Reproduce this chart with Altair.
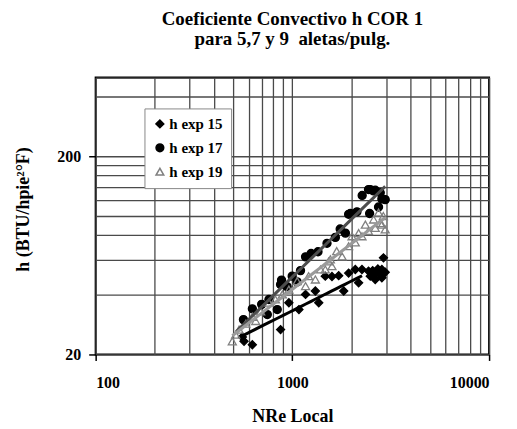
import altair as alt
import pandas as pd

# exp 15 (diamonds, lower branch)
x15 = [557, 568, 626, 871, 960, 1080, 1167, 1309, 1362, 1470, 1590, 1720, 1824, 1932, 2089,
       2172, 2259, 2438, 2489, 2638, 2638, 2798, 2851, 2851, 2905, 2965, 2560, 2720]
y15 = [24.5, 23.3, 22.4, 26.7, 36.5, 33.7, 40.2, 41.8, 36.5, 49.7, 49.5, 50.0, 41.8, 51.5, 53.7,
       46.0, 53.7, 52.7, 49.7, 51.7, 47.8, 50.0, 53.7, 48.8, 61.5, 52.0, 53.0, 54.0]

# exp 17 (filled circles)
x17 = [564, 626, 698, 746, 760, 838, 871, 881, 940, 998, 1058, 1100, 1167, 1245, 1350, 1500,
       1654, 1750, 1860, 1932, 1972, 2130, 2264, 2438, 2470, 2489, 2588, 2638, 2742, 2798, 2851, 2965]
y17 = [30.0, 34.0, 35.8, 31.8, 37.9, 33.7, 45.1, 47.5, 44.0, 49.7, 46.5, 53.0, 62.2, 64.7, 66.0, 72.8,
       78.0, 86.0, 82.0, 102.0, 103.0, 105.0, 127.0, 136.0, 103.0, 136.0, 134.0, 135.0, 111.0, 131.0, 122.0, 121.0]

# exp 19 (open triangles)
x19 = [495, 515, 536, 580, 626, 651, 690, 760, 820, 890, 960, 1058, 1167, 1210, 1309, 1390, 1470,
       1530, 1560, 1590, 1680, 1790, 1932, 2010, 2089, 2172, 2259, 2350, 2438, 2588, 2638, 2742,
       2798, 2851, 2900, 2965]
y19 = [23.3, 25.2, 26.7, 28.6, 31.0, 29.5, 33.0, 36.5, 37.9, 40.2, 42.5, 46.9, 44.3, 49.7, 47.8, 53.7, 53.7,
       59.0, 60.4, 55.8, 66.5, 62.5, 70.4, 79.0, 73.5, 82.0, 79.0, 90.5, 84.0, 96.0, 87.0, 104.0,
       92.0, 90.5, 100.0, 85.5]

series_names = ["h exp 15", "h exp 17", "h exp 19"]
x_grid = [100, 200, 300, 400, 500, 600, 700, 800, 900, 1000, 2000, 3000, 4000, 5000, 6000,
          7000, 8000, 9000, 10000]
y_grid = [20, 40, 60, 80, 100, 120, 140, 160, 180, 200, 400, 500]

rows = []
for name, xs, ys in zip(series_names, [x15, x17, x19], [y15, y17, y19]):
    for a, b in zip(xs, ys):
        rows.append({"NRe": a, "h": b, "serie": name})
df = pd.DataFrame(rows)

FONT = "Liberation Serif"

xscale = alt.Scale(type="log", domain=[100, 10000], nice=False)
yscale = alt.Scale(type="log", domain=[20, 500], nice=False)

common = dict(grid=True, gridColor="#4a4a4a", gridWidth=1.3, gridOpacity=1,
              domain=False, tickColor="black", tickWidth=1.5,
              labelFont=FONT, labelFontSize=16, labelFontWeight="bold", labelColor="black",
              titleFont=FONT, titleFontSize=18, titleFontWeight="bold", titleColor="black")

xaxis = alt.Axis(values=x_grid, title="NRe Local", format="d",
                 labelExpr="indexof([100,1000,10000], datum.value) >= 0 ? format(datum.value,'d') : ''",
                 tickSize={"condition": {"test": "indexof([100,1000,10000], datum.value) >= 0", "value": 6}, "value": 0},
                 labelPadding=14, titlePadding=17, **common)
yaxis = alt.Axis(values=y_grid, title="h (BTU/hpie²°F)", format="d",
                 labelExpr="indexof([20,200], datum.value) >= 0 ? format(datum.value,'d') : ''",
                 tickSize={"condition": {"test": "indexof([20,200], datum.value) >= 0", "value": 7}, "value": 0},
                 labelPadding=8, titlePadding=24, titleY=132, **common)

points = alt.Chart(df).mark_point(size=65, strokeWidth=1.3, opacity=1).encode(
    x=alt.X("NRe:Q", scale=xscale, axis=xaxis),
    y=alt.Y("h:Q", scale=yscale, axis=yaxis),
    shape=alt.Shape("serie:N", scale=alt.Scale(domain=series_names, range=["diamond", "circle", "triangle-up"]),
                    legend=alt.Legend(title=None, orient="none", legendX=49, legendY=31,
                                      fillColor="white", strokeColor="#888", padding=8,
                                      labelFont=FONT, labelFontSize=15, labelFontWeight="bold",
                                      labelColor="black", symbolSize=60, rowPadding=8, labelOffset=2)),
    fill=alt.Fill("serie:N", scale=alt.Scale(domain=series_names, range=["black", "black", "transparent"])),
    stroke=alt.Stroke("serie:N", scale=alt.Scale(domain=series_names, range=["black", "black", "#808080"])),
)

line_colors = {"h exp 15": "black", "h exp 17": "#4d4d4d", "h exp 19": "#9a9a9a"}
line_extent = {"h exp 15": [557, 2260], "h exp 17": [520, 2965], "h exp 19": [495, 2965]}
lines = []
for name in series_names:
    lines.append(
        alt.Chart(df).transform_filter(alt.datum.serie == name)
        .transform_regression("NRe", "h", method="pow", extent=line_extent[name])
        .mark_line(color=line_colors[name], strokeWidth=3)
        .encode(x=alt.X("NRe:Q", scale=xscale), y=alt.Y("h:Q", scale=yscale))
    )

chart = alt.layer(points, *lines).properties(
    width=395, height=278,
    background="white",
    title=alt.TitleParams(["Coeficiente Convectivo h COR 1", "para 5,7 y 9\u00a0 aletas/pulg."],
                          font=FONT, fontSize=19, fontWeight="bold", anchor="middle",
                          offset=28, lineHeight=20, color="black"),
    autosize=alt.AutoSizeParams(type="none"),
    padding={"left": 88, "top": 69, "right": 20, "bottom": 74},
).configure_view(stroke="black", strokeWidth=2)

chart.save("out.html", embed_options={"renderer": "svg", "actions": False})
